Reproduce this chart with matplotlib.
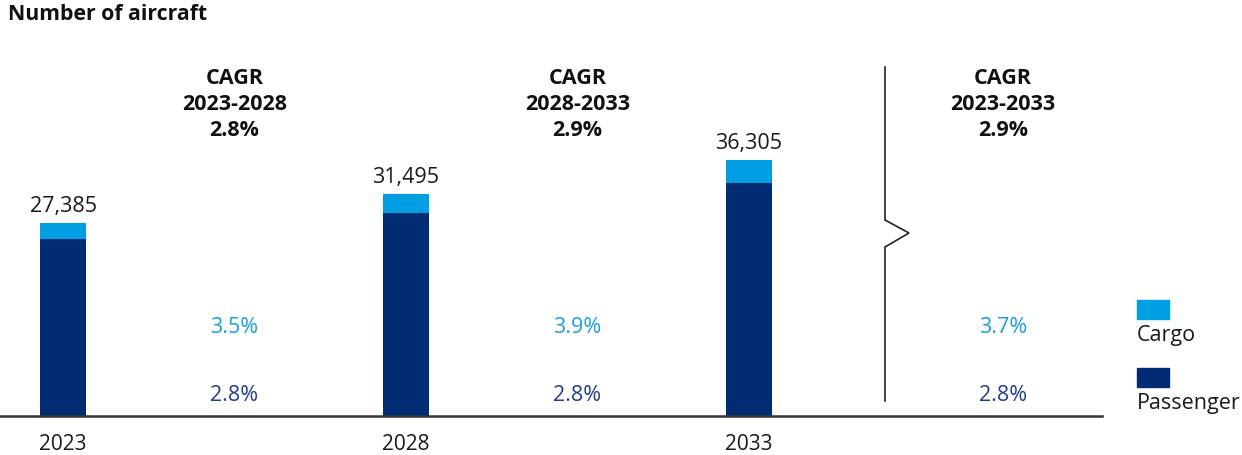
import matplotlib.pyplot as plt
from matplotlib.patches import Rectangle

plt.rcParams['font.family'] = ['Open Sans', 'DejaVu Sans']

years = ['2023', '2028', '2033']
cargo = [2235, 2700, 3270]
passenger = [25150, 28795, 33035]
totals = ['27,385', '31,495', '36,305']
cagr_titles = ['CAGR\n2023-2028\n2.8%', 'CAGR\n2028-2033\n2.9%', 'CAGR\n2023-2033\n2.9%']
cagr_cargo = ['3.5%', '3.9%', '3.7%']
cagr_pass = ['2.8%', '2.8%', '2.8%']

c_cargo = '#009fe3'
c_pass = '#002c73'
t_cargo = '#1a9fe0'
t_pass = '#233f8c'

W, H = 1242, 455
fig = plt.figure(figsize=(W / 100, H / 100), dpi=100)
ax = fig.add_axes([0, 39.3 / H, 1102 / W, 281.6 / H])

x = [0, 1, 2]
bw = 46 / 343
ax.bar(x, passenger, width=bw, color=c_pass, zorder=2)
ax.bar(x, cargo, width=bw, bottom=passenger, color=c_cargo, zorder=2)

ax.set_xlim(-63 / 343, 1039 / 343)
ax.set_ylim(0, 40000)

fs = 15.5
for i in x:
    ax.text(i, passenger[i] + cargo[i] + 900, totals[i], ha='center', va='bottom',
            fontsize=fs, color='#1a1a1a')

gap_x = [0.5, 1.5, 940 / 343]
for i, gx in enumerate(gap_x):
    ax.text(gx, 49400, cagr_titles[i], ha='center', va='top', fontsize=fs,
            fontweight='bold', color='#111111', linespacing=1.3, clip_on=False)
    ax.text(gx, 12460, cagr_cargo[i], ha='center', va='center', fontsize=fs, color=t_cargo)
    ax.text(gx, 2940, cagr_pass[i], ha='center', va='center', fontsize=fs, color=t_pass)

# axis break line
bx = 822 / 343
zx = 846 / 343
def yv(px):
    return (415.7 - px) / 0.00704
ax.plot([bx, bx, zx, bx, bx], [yv(67), yv(220), yv(233), yv(247), yv(401)],
        color='#222222', lw=1.2, clip_on=False, solid_joinstyle='miter')

for s in ['top', 'right', 'left']:
    ax.spines[s].set_visible(False)
ax.spines['bottom'].set_color('#333333')
ax.spines['bottom'].set_linewidth(1.8)
ax.set_yticks([])
ax.set_xticks(x)
ax.set_xticklabels(years, fontsize=15, color='#1a1a1a')
ax.tick_params(axis='x', length=0, pad=13)

fig.text(8 / W, 1 - 14 / H, 'Number of aircraft', fontsize=15.3, fontweight='bold',
         color='#111111', va='center', ha='left')

# legend
fig.patches.append(Rectangle((1137 / W, 1 - 319 / H), 32 / W, 19 / H,
                             transform=fig.transFigure, color=c_cargo))
fig.patches.append(Rectangle((1137 / W, 1 - 387 / H), 32 / W, 19 / H,
                             transform=fig.transFigure, color=c_pass))
fig.text(1137 / W, 1 - 336 / H, 'Cargo', fontsize=fs, color='#1a1a1a', va='center')
fig.text(1137 / W, 1 - 403 / H, 'Passenger', fontsize=fs, color='#1a1a1a', va='center')

fig.savefig('out.png', dpi=100)
